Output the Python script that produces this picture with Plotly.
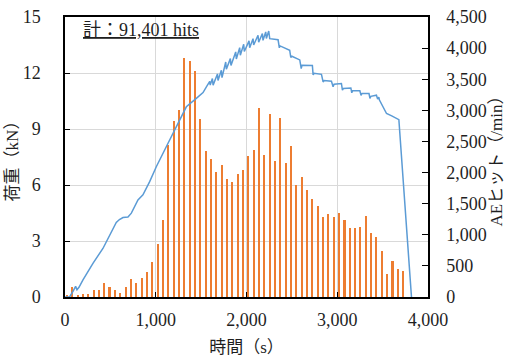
import plotly.graph_objects as go

# AE hits per minute (bars)
ae_time = [21, 80, 139, 197, 256, 315, 374, 433, 491, 550,
           609, 668, 727, 785, 844, 903, 962, 1021, 1079, 1138,
           1197, 1256, 1315, 1373, 1432, 1491, 1550, 1609, 1667, 1726,
           1785, 1844, 1903, 1961, 2020, 2079, 2138, 2197, 2255, 2314,
           2373, 2432, 2491, 2549, 2608, 2667, 2726, 2785, 2843, 2902,
           2961, 3020, 3079, 3137, 3196, 3255, 3314, 3373, 3431, 3490,
           3549, 3608, 3667, 3725]
ae_hits = [25, 165, 25, 42, 53, 105, 115, 224, 155, 118,
           64, 166, 289, 219, 310, 406, 561, 850, 1240, 2442,
           2822, 3003, 3837, 3794, 3634, 2864, 2351, 2218, 2009, 2122,
           1897, 1849, 1977, 2041, 2266, 2362, 3041, 2276, 2934, 2180,
           2880, 2148, 2431, 1801, 1924, 1726, 1582, 1470, 1288, 1331,
           1288, 1352, 1240, 1106, 1112, 1133, 1299, 1026, 967, 743,
           369, 572, 454, 411]

# Load curve
load_time = [0, 50, 88, 117, 132, 154, 198, 308, 418, 529, 565, 600, 639, 694, 731,
             804, 859, 933, 1006, 1116, 1227, 1337, 1447, 1500, 1521, 1558,
             1595, 1600, 1624, 1632, 1680, 1686, 1723, 1730, 1771, 1778, 1822, 1829,
             1881, 1888, 1925, 1932, 1969, 1976, 2028, 2035, 2072, 2079, 2127, 2134,
             2175, 2182, 2212, 2219, 2245, 2256, 2348, 2362, 2370, 2476, 2488, 2500,
             2587, 2603, 2612, 2726, 2734, 2745, 2826, 2844, 2855, 2936, 2954, 2965,
             3046, 3057, 3068, 3150, 3160, 3170, 3249, 3262, 3272, 3350, 3360, 3370,
             3432, 3445, 3458, 3465, 3543, 3600, 3679, 3818]
load_kn = [0, 0, 0.3, 0.57, 0.39, 0.52, 0.92, 1.8, 2.6, 3.7, 3.99, 4.15, 4.26, 4.29, 4.49,
           5.2, 5.47, 6.18, 6.98, 8.05, 9.12, 10.19, 10.64, 10.9, 10.95, 11.26,
           11.55, 11.35, 11.70, 11.35, 11.95, 11.6, 12.15, 11.75, 12.59, 12.2, 12.77, 12.4,
           13.13, 12.75, 13.36, 12.95, 13.54, 13.15, 13.72, 13.35, 13.84, 13.5, 14.02, 13.65,
           14.11, 13.75, 14.2, 13.85, 14.25, 13.84, 13.78, 13.35, 13.45, 13.22, 12.83, 12.9,
           12.7, 12.24, 12.42, 12.4, 11.9, 11.98, 11.93, 11.52, 11.6, 11.56, 11.26, 11.4,
           11.44, 11.08, 11.17, 11.2, 10.94, 11.05, 11.05, 10.8, 10.9, 10.9, 10.64, 10.75,
           10.81, 10.6, 10.7, 10.55, 9.83, 9.7, 9.5, 0]

total_label = "計：91,401 hits"

FONT = "Liberation Serif, Times New Roman, Noto Sans CJK JP, serif"
TXT = "#1f1f1f"

fig = go.Figure()
fig.add_trace(go.Bar(x=ae_time, y=ae_hits, width=24, marker_color="#ED7D31",
                     marker_line_width=0, yaxis="y", name="AE"))
fig.add_trace(go.Scatter(x=load_time, y=load_kn, mode="lines",
                         line=dict(color="#5B9BD5", width=1.5), yaxis="y2", name="load"))

fig.update_layout(
    width=509, height=361,
    margin=dict(l=65, r=81, t=17, b=64, autoexpand=False),
    paper_bgcolor="white", plot_bgcolor="white",
    showlegend=False,
    font=dict(family=FONT, size=18, color=TXT),
    bargap=0,
    xaxis=dict(range=[0, 4000], dtick=1000, tickformat=",", showgrid=True,
               gridcolor="#d9d9d9", gridwidth=1.3, zeroline=False, automargin=False,
               showline=True, linecolor="black", linewidth=1.5, mirror=True,
               ticks="inside", ticklen=5, tickcolor="black", ticklabelstandoff=6,
               title=dict(text="時間（s）", standoff=12, font=dict(size=17))),
    yaxis=dict(range=[0, 4500], dtick=500, tickformat=",", side="right",
               showgrid=False, zeroline=False, showline=True, linecolor="black",
               linewidth=1.5, ticks="inside", ticklen=6, tickcolor="black",
               ticklabelstandoff=13, automargin=False,
               title=dict(text="AEヒット（/min）", standoff=2, font=dict(size=17))),
    yaxis2=dict(range=[0, 15], dtick=3, overlaying="y", side="left",
                showgrid=True, gridcolor="#d9d9d9", gridwidth=1.3, zeroline=False,
                showline=True, linecolor="black", linewidth=1.5, automargin=False,
                ticks="inside", ticklen=5, tickcolor="black", ticklabelstandoff=19,
                title=dict(text="荷重（kN）", standoff=0, font=dict(size=17))),
    annotations=[dict(text="<u>" + total_label + "</u>", xref="paper", yref="paper",
                      x=0.045, y=0.998, xanchor="left", yanchor="top",
                      showarrow=False, font=dict(size=18, color=TXT))],
)

fig.write_html("out.html")
